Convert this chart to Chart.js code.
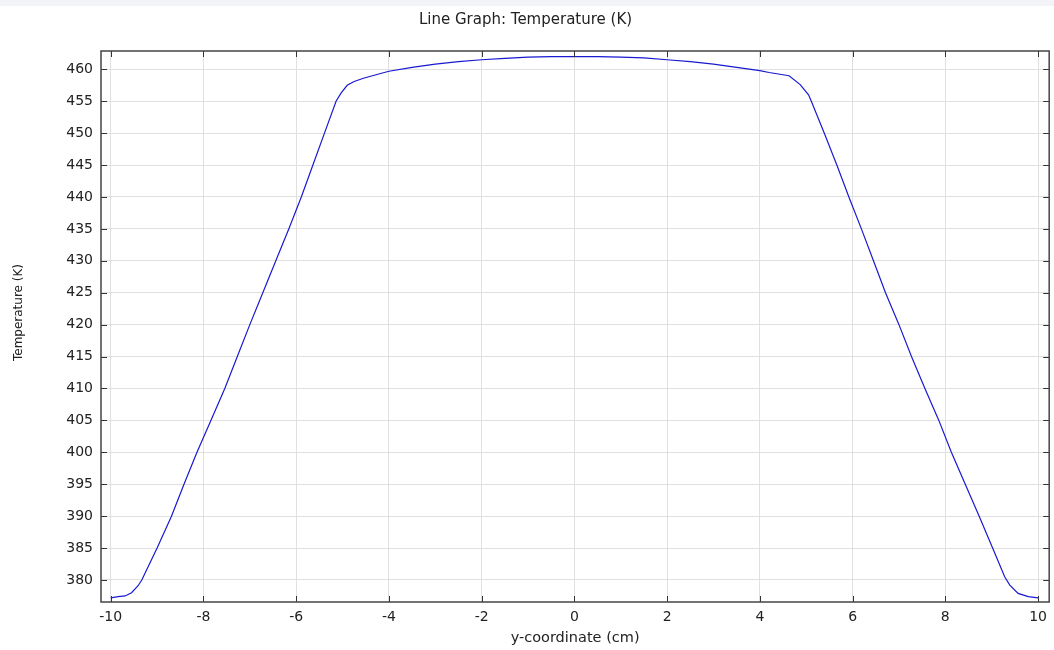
<!DOCTYPE html>
<html>
<head>
<meta charset="utf-8">
<script src="https://cdn.jsdelivr.net/npm/chart.js@4"></script>
<style>
  html, body { margin: 0; padding: 0; background: #fff; }
  #wrap { width: 1054px; height: 650px; }
</style>
</head>
<body>
<div id="wrap"><canvas id="tempChart" width="1054" height="650"></canvas></div>
<script>
// Values
const yCoord = [
  -10.00, -9.84, -9.69, -9.55, -9.41, -9.33, -9.00, -8.69, -8.42, -8.14,
  -7.84, -7.54, -7.27, -7.00, -6.72, -6.44, -6.16, -5.89, -5.64, -5.39,
  -5.14, -5.03, -4.90, -4.75, -4.55, -4.20, -4.00, -3.50, -3.00, -2.50,
  -2.00, -1.50, -1.00, -0.50, 0.00, 0.50, 1.00, 1.50, 2.00, 2.50,
  3.00, 3.50, 4.00, 4.20, 4.63, 4.87, 5.05, 5.11, 5.39, 5.66,
  5.92, 6.19, 6.45, 6.71, 7.00, 7.27, 7.56, 7.86, 8.13, 8.43,
  8.73, 9.02, 9.28, 9.39, 9.57, 9.79, 10.00
];
const temperature = [
  377.2, 377.4, 377.5, 378.0, 379.1, 380.0, 385.0, 390.0, 395.0, 400.0,
  405.0, 410.0, 415.0, 420.0, 425.0, 430.0, 435.0, 440.0, 445.0, 450.0,
  455.0, 456.3, 457.5, 458.1, 458.6, 459.3, 459.7, 460.3, 460.8, 461.2,
  461.5, 461.7, 461.9, 462.0, 462.0, 462.0, 461.9, 461.8, 461.5, 461.2,
  460.8, 460.3, 459.8, 459.5, 459.0, 457.6, 456.0, 455.0, 450.0, 445.0,
  440.0, 435.0, 430.0, 425.0, 420.0, 415.0, 410.0, 405.0, 400.0, 395.0,
  390.0, 385.0, 380.5, 379.2, 377.9, 377.4, 377.2
];
const xTicks = [-10, -8, -6, -4, -2, 0, 2, 4, 6, 8, 10];
const yTicks = [380, 385, 390, 395, 400, 405, 410, 415, 420, 425, 430, 435, 440, 445, 450, 455, 460];

const textColor = '#222';
const fontFamily = "'DejaVu Sans', sans-serif";
const yTitle = 'Temperature (K)';

// white page with the faint strip at the very top
const background = {
  id: 'background',
  beforeDraw(chart) {
    const c = chart.ctx;
    c.save();
    c.fillStyle = '#ffffff';
    c.fillRect(0, 0, chart.width, chart.height);
    c.fillStyle = '#f3f4f7';
    c.fillRect(0, 0, chart.width, 6);
    c.restore();
  }
};

// box around the plot, inward tick marks on all four sides, y axis title
const frame = {
  id: 'frame',
  afterDraw(chart) {
    const c = chart.ctx;
    const a = chart.chartArea;
    const xs = chart.scales.x, ys = chart.scales.y;
    c.save();
    c.strokeStyle = '#333';
    c.lineWidth = 1;
    c.beginPath();
    xTicks.forEach(v => {
      const px = Math.round(xs.getPixelForValue(v)) + 0.5;
      c.moveTo(px, a.bottom); c.lineTo(px, a.bottom - 6);
      c.moveTo(px, a.top); c.lineTo(px, a.top + 6);
    });
    yTicks.forEach(v => {
      const py = Math.round(ys.getPixelForValue(v)) + 0.5;
      c.moveTo(a.left, py); c.lineTo(a.left + 6, py);
      c.moveTo(a.right, py); c.lineTo(a.right - 6, py);
    });
    c.stroke();
    c.lineWidth = 1.5;
    c.strokeStyle = '#444';
    c.strokeRect(a.left, a.top, a.right - a.left, a.bottom - a.top);

    // y title sits a little above the middle of the plot in the original
    c.translate(19, (a.top + a.bottom) / 2 - 14);
    c.rotate(-Math.PI / 2);
    c.fillStyle = textColor;
    c.font = "12px " + fontFamily;
    c.textAlign = 'center';
    c.textBaseline = 'middle';
    c.fillText(yTitle, 0, 0);
    c.restore();
  }
};

new Chart(document.getElementById('tempChart'), {
  type: 'line',
  data: {
    datasets: [{
      label: yTitle,
      data: yCoord.map((v, i) => ({ x: v, y: temperature[i] })),
      borderColor: 'rgb(25, 25, 210)',
      borderWidth: 1.2,
      pointRadius: 0,
      tension: 0,
      fill: false
    }]
  },
  options: {
    responsive: false,
    animation: false,
    layout: { padding: { left: 0, right: 3, top: 0, bottom: 0 } },
    plugins: {
      legend: { display: false },
      tooltip: { enabled: false },
      title: {
        display: true,
        text: 'Line Graph: Temperature (K)',
        color: textColor,
        font: { family: fontFamily, size: 15, weight: 'normal' },
        padding: { top: 11, bottom: 22 }
      }
    },
    scales: {
      x: {
        type: 'linear',
        min: -10.21,
        max: 10.24,
        afterFit: s => { s.height = 48; },
        afterBuildTicks: s => { s.ticks = xTicks.map(v => ({ value: v })); },
        ticks: {
          color: textColor,
          font: { family: fontFamily, size: 14 },
          padding: 7,
          maxRotation: 0
        },
        grid: { color: '#e0e0e0', drawTicks: false },
        border: { display: false },
        title: {
          display: true,
          text: 'y-coordinate (cm)',
          color: textColor,
          font: { family: fontFamily, size: 14.5 },
          padding: { top: 0, bottom: 3 }
        }
      },
      y: {
        type: 'linear',
        min: 376.55,
        max: 462.87,
        afterFit: s => { s.width = 101; },
        afterBuildTicks: s => { s.ticks = yTicks.map(v => ({ value: v })); },
        ticks: {
          color: textColor,
          font: { family: fontFamily, size: 14 },
          padding: 8
        },
        grid: { color: '#e0e0e0', drawTicks: false },
        border: { display: false }
      }
    }
  },
  plugins: [background, frame]
});
</script>
</body>
</html>
